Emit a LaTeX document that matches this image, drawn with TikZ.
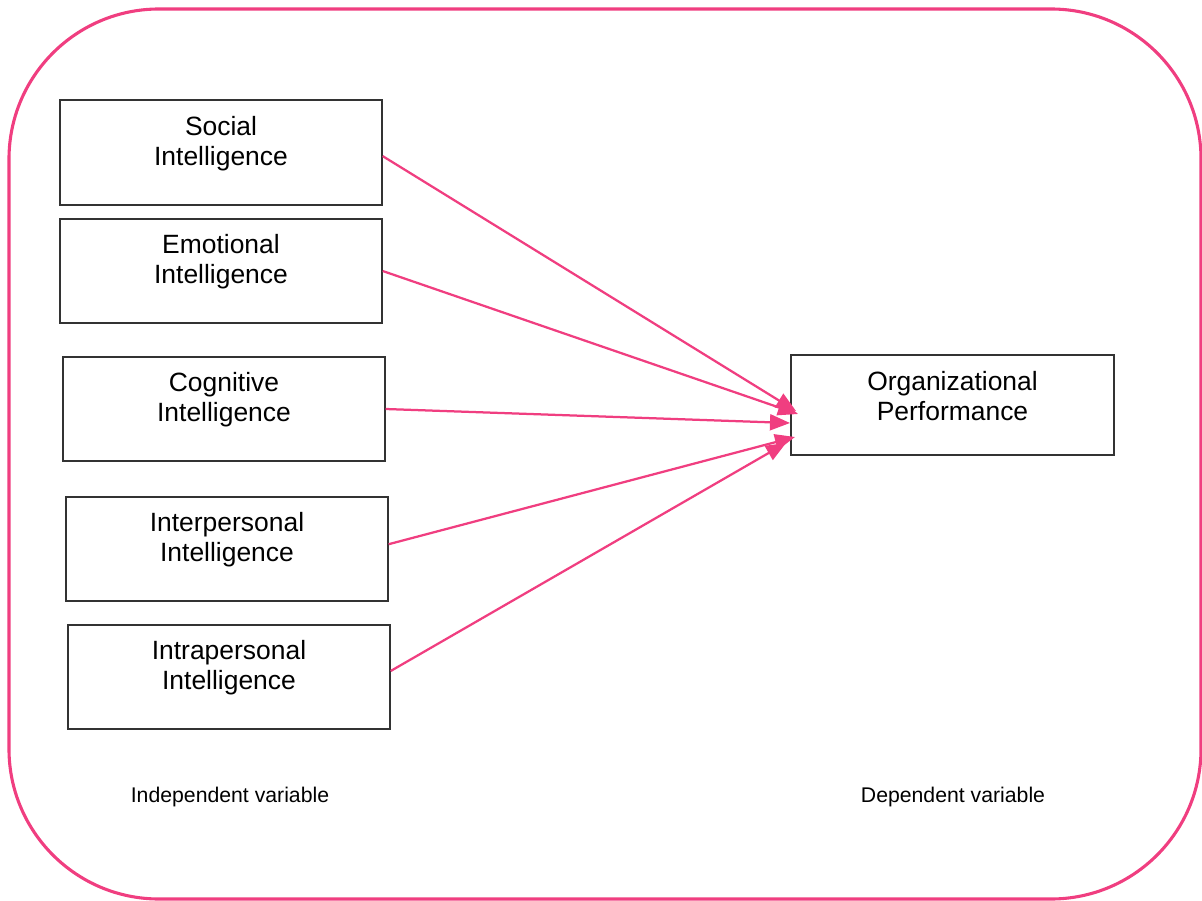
\documentclass[tikz,border=0pt]{standalone}
\usepackage{fontspec}
\setmainfont{Liberation Sans}
\usetikzlibrary{arrows.meta}
\definecolor{hotpink}{RGB}{240,62,128}

\begin{document}
\begin{tikzpicture}[x=0.025cm,y=-0.025cm,
  box/.style={draw=black!80,line width=0.9pt,minimum width=8.05cm,minimum height=2.6cm,inner sep=0pt},
  vartext/.style={align=center,font=\fontsize{18.8}{21.3}\selectfont,yshift=0.23cm},
  link/.style={hotpink,line width=1.6pt,-{Triangle[length=0.5cm,width=0.4cm]}}]
\useasboundingbox (0,0) rectangle (1202,900);
\draw[hotpink,line width=2.2pt,rounded corners=3.75cm] (9,9) rectangle (1201,899);
% independent variables
\node[box,minimum height=2.625cm,label={[vartext]center:Social\\Intelligence}] (soc) at (221,152.5) {};
\node[box,label={[vartext]center:Emotional\\Intelligence}] (emo) at (221,271) {};
\node[box,label={[vartext]center:Cognitive\\Intelligence}] (cog) at (224,409) {};
\node[box,label={[vartext]center:Interpersonal\\Intelligence}] (inter) at (227,549) {};
\node[box,label={[vartext]center:Intrapersonal\\Intelligence}] (intra) at (229,677) {};
% dependent variable
\node[box,minimum width=8.075cm,minimum height=2.5cm,label={[vartext]center:Organizational\\Performance}] (org) at (952.5,405) {};
\coordinate (t1) at (796,411);
\coordinate (t2) at (798,414);
\coordinate (t3) at (790,423);
\coordinate (t4) at (795,437);
\coordinate (t5) at (786,443);
\draw[link] ([yshift=-0.09cm]soc.east) -- (t1);
\draw[link] (emo.east) -- (t2);
\draw[link] (cog.east) -- (t3);
\draw[link] ([yshift=0.12cm]inter.east) -- (t4);
\draw[link] ([yshift=0.15cm]intra.east) -- (t5);
\node[font=\fontsize{15.1}{18}\selectfont] (indep) at (230,797) {Independent variable};
\node[font=\fontsize{15.1}{18}\selectfont] (dep) at (953,797) {Dependent variable};
\end{tikzpicture}
\end{document}
